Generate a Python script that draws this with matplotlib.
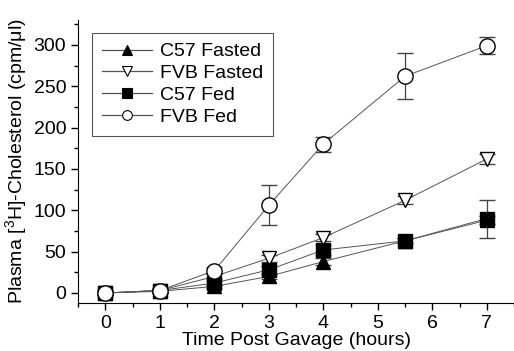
import matplotlib

matplotlib.use("Agg")

import matplotlib.pyplot as plt
from matplotlib.lines import Line2D
from matplotlib.ticker import MultipleLocator

plt.rcParams["font.family"] = ["Liberation Sans", "DejaVu Sans"]
plt.rcParams["mathtext.fontset"] = "custom"
plt.rcParams["mathtext.rm"] = "Liberation Sans"

hours = [0, 1, 2, 3, 4, 5.5, 7]

c57_fasted = [0, 2, 8, 20, 38, 63, 88]
c57_fasted_err = [2, 2, 2, 3, 4, 3, 5]
fvb_fasted = [0, 3, 20, 42, 67, 112, 162]
fvb_fasted_err = [2, 2, 3, 4, 4, 5, 6]
c57_fed = [0, 3, 12, 28, 52, 63, 90]
c57_fed_err = [2, 2, 3, 5, 6, 3, 23]
fvb_fed = [0, 3, 27, 106, 180, 262, 299]
fvb_fed_err = [5, 3, 4, 24, 9, 28, 10]

SERIES = [
    ("C57 Fasted", c57_fasted, c57_fasted_err, "^", "black"),
    ("FVB Fasted", fvb_fasted, fvb_fasted_err, "v", "white"),
    ("C57 Fed", c57_fed, c57_fed_err, "s", "black"),
    ("FVB Fed", fvb_fed, fvb_fed_err, "o", "white"),
]

fig = plt.figure(figsize=(5.14, 3.51), dpi=100)
ax = fig.add_axes([0.152, 0.137, 0.848, 0.806])

handles = []
for label, ys, errs, marker, face in SERIES:
    ax.errorbar(
        hours, ys, yerr=errs,
        marker=marker, markersize=10 if marker != "o" else 11,
        markerfacecolor=face, markeredgecolor="black", markeredgewidth=1.0,
        color="#555555", linewidth=0.7,
        ecolor="#444444", elinewidth=0.9, capsize=5.5, capthick=0.9,
    )
    handles.append(Line2D(
        [], [], marker=marker, markersize=6.5 if marker != "o" else 7,
        markerfacecolor=face, markeredgecolor="black", markeredgewidth=0.8,
        color="#555555", linewidth=0.9, label=label,
    ))

ax.set_xlim(-0.5, 7.5)
ax.set_ylim(-12, 330)
ax.xaxis.set_major_locator(MultipleLocator(1))
ax.xaxis.set_minor_locator(MultipleLocator(0.5))
ax.yaxis.set_major_locator(MultipleLocator(50))
ax.yaxis.set_minor_locator(MultipleLocator(25))
ax.tick_params(which="both", direction="out", labelsize=14, width=1)
ax.tick_params(which="major", length=5)
ax.tick_params(which="minor", length=3)

ax.spines["top"].set_visible(False)
ax.spines["right"].set_visible(False)

ax.set_xlabel("Time Post Gavage (hours)", fontsize=14, labelpad=0)
ax.set_ylabel("Plasma [$^{3}$H]-Cholesterol (cpm/\u03bcl)", fontsize=14, labelpad=3)

leg = ax.legend(
    handles=handles, loc="upper left", bbox_to_anchor=(0.032, 0.954),
    borderaxespad=0, fontsize=14,
    frameon=True, fancybox=False, edgecolor="#555555", framealpha=1,
    handlelength=2.6, labelspacing=0.22, borderpad=0.5, handletextpad=0.4,
)
leg.get_frame().set_linewidth(0.8)

fig.savefig("out.png")
